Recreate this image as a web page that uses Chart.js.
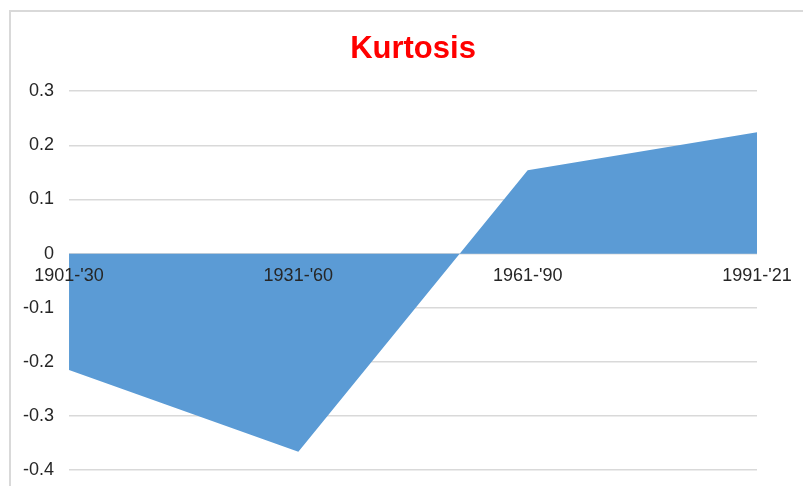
<!DOCTYPE html>
<html>
<head>
<meta charset="utf-8">
<script src="https://cdn.jsdelivr.net/npm/chart.js@4"></script>
<style>
  html, body { margin: 0; padding: 0; overflow: hidden; background: #fff; }
  #wrap { position: absolute; left: 0; top: 0; width: 803px; height: 496px; }
  #frame {
    position: absolute; left: 9px; top: 10px; width: 900px; height: 600px;
    border: 2px solid #d9d9d9; pointer-events: none;
  }
</style>
</head>
<body>
<div id="wrap"><canvas id="myChart"></canvas></div>
<div id="frame"></div>
<script>
/* DATA */
const periods = ["1901-'30", "1931-'60", "1961-'90", "1991-'21"];
const kurtosis = [-0.215, -0.366, 0.154, 0.224];
const yMin = -0.4;
const yMax = 0.3;
const yStep = 0.1;

const font = "'Liberation Sans', Arial, sans-serif";

const data = {
  labels: periods,
  datasets: [{
    label: 'Kurtosis',
    data: kurtosis,
    backgroundColor: '#5b9bd5',
    borderWidth: 0,
    pointRadius: 0,
    fill: 'origin',
    tension: 0
  }]
};

const config = {
  type: 'line',
  data,
  options: {
    responsive: true,
    maintainAspectRatio: false,
    animation: false,
    layout: { padding: { left: 8, right: 46, top: 0, bottom: 0 } },
    plugins: {
      legend: { display: false },
      tooltip: { enabled: false },
      title: {
        display: true,
        text: 'Kurtosis',
        color: '#ff0000',
        fullSize: false,
        font: { family: font, size: 31, weight: 'bold' },
        padding: { top: 31, bottom: 23 }
      }
    },
    scales: {
      x: {
        type: 'category',
        offset: false,
        position: { y: 0 },
        grid: { display: false },
        border: { display: false },
        ticks: {
          z: 1,
          color: '#262626',
          padding: 4,
          maxRotation: 0,
          font: { family: font, size: 18 }
        }
      },
      y: {
        min: yMin,
        max: yMax,
        grid: { color: '#d9d9d9', lineWidth: 1.5, drawTicks: false },
        border: { display: false },
        ticks: {
          stepSize: yStep,
          padding: 15,
          color: '#262626',
          font: { family: font, size: 18 },
          callback: v => String(+v.toFixed(1))
        }
      }
    }
  }
};

let myChart = new Chart(document.getElementById('myChart'), config);
</script>
</body>
</html>
